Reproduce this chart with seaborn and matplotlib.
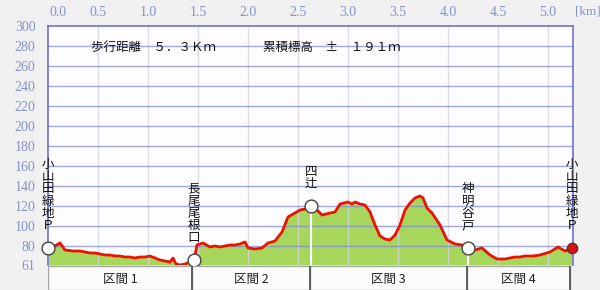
import matplotlib
matplotlib.use("Agg")
import matplotlib.pyplot as plt
import matplotlib.transforms as mtransforms
import seaborn as sns
import pandas as pd

# ---- data ----
dist_km = [0.00, 0.05, 0.12, 0.17, 0.25, 0.32, 0.42, 0.47, 0.52, 0.57, 0.62, 0.67,
           0.72, 0.77, 0.82, 0.87, 0.92, 0.97, 1.02, 1.07, 1.12, 1.17, 1.22, 1.25,
           1.28, 1.32, 1.37, 1.42, 1.46, 1.49, 1.55, 1.62, 1.67, 1.72, 1.77, 1.82,
           1.87, 1.92, 1.97, 2.00, 2.07, 2.14, 2.20, 2.27, 2.34, 2.40, 2.47, 2.52,
           2.57, 2.63, 2.69, 2.74, 2.78, 2.82, 2.87, 2.92, 2.96, 3.00, 3.04, 3.07,
           3.12, 3.17, 3.22, 3.27, 3.32, 3.37, 3.42, 3.47, 3.52, 3.57, 3.62, 3.67,
           3.72, 3.75, 3.79, 3.84, 3.92, 3.99, 4.07, 4.14, 4.20, 4.27, 4.34, 4.42,
           4.49, 4.57, 4.62, 4.67, 4.72, 4.77, 4.85, 4.92, 5.02, 5.10, 5.17, 5.24]
elev_m = [78, 79, 83, 76, 75, 75, 73, 73, 72, 71, 71, 70,
          70, 69, 69, 68, 69, 69, 70, 68, 66, 65, 64, 68,
          62, 61, 62, 64, 66, 81, 83, 79, 80, 79, 80, 81,
          81, 82, 84, 78, 77, 78, 83, 85, 94, 109, 113, 116,
          117, 120, 116, 111, 112, 113, 114, 122, 123, 124, 122, 124,
          122, 121, 114, 101, 90, 87, 86, 91, 101, 116, 123, 128,
          130, 128, 118, 113, 101, 86, 82, 81, 78, 76, 78, 71,
          67, 67, 68, 69, 69, 70, 70, 71, 74, 79, 75, 78]

km_ticks = [0.0, 0.5, 1.0, 1.5, 2.0, 2.5, 3.0, 3.5, 4.0, 4.5, 5.0]
m_ticks = [61, 80, 100, 120, 140, 160, 180, 200, 220, 240, 260, 280, 300]

spot_names = ["小山田緑地Ｐ", "長尾尾根口", "四辻", "神明谷戸", "小山田緑地Ｐ"]
spot_km = [0.00, 1.46, 2.63, 4.20, 5.24]
spot_m = [78, 66, 120, 78, 78]

section_names = ["区間 1", "区間 2", "区間 3", "区間 4"]
section_bounds = [0.00, 1.44, 2.62, 4.19, 5.22]

title_left = "歩行距離　５．３Ｋｍ"
title_right = "累積標高　±　１９１ｍ"

# ---- style ----
sns.set_theme(style="white")
plt.rcParams["font.family"] = ["Noto Sans CJK JP", "DejaVu Sans"]

BG = "#f1f1f1"
GRID_H = "#7f8ad6"
GRID_V = "#d4d6e0"
TICK_C = "#8593cf"
FILL = "#a6d65b"
LINE = "#ee1100"

XMIN, XMAX = 0.0, 5.25
YMIN, YMAX = 61, 300

fig = plt.figure(figsize=(6.0, 2.9), dpi=100, facecolor=BG)
ax = fig.add_axes([48 / 600, 1 - 265 / 290, 525 / 600, 239 / 290])
ax.set_facecolor("#fdfdff")

df = pd.DataFrame({"km": dist_km, "m": elev_m})

ax.fill_between(df["km"], YMIN, df["m"], color=FILL, linewidth=0, zorder=1)

# grid over the fill
for t in km_ticks[1:]:
    ax.axvline(t, color=GRID_V, lw=1.0, alpha=0.8, zorder=2)
for t in m_ticks[1:-1]:
    ax.axhline(t, color=GRID_H, lw=1.0, alpha=0.75, zorder=2)

# white stems from spots
ax.vlines(spot_km[1:4], YMIN, spot_m[1:4], color="white", lw=1.5, zorder=3)

sns.lineplot(data=df, x="km", y="m", color=LINE, lw=2.0, ax=ax, zorder=4)

ax.scatter(spot_km[:4], spot_m[:4], s=85, facecolor="white", edgecolor="#444444",
           linewidth=1.0, zorder=6, clip_on=False)
ax.scatter(spot_km[4:], spot_m[4:], s=55, facecolor="#dd1111", edgecolor="#553333",
           linewidth=1.0, zorder=6, clip_on=False)

for name, xk, ym in zip(spot_names, spot_km, spot_m):
    ax.text(xk, ym + 16, "\n".join(list(name)), ha="center", va="bottom",
            fontsize=9, linespacing=0.92, color="#111111", zorder=7, clip_on=False)

ax.text(0.43, 279, title_left, ha="left", va="center", fontsize=9, color="#111111")
ax.text(2.15, 279, title_right, ha="left", va="center", fontsize=9, color="#111111")

ax.set_xlim(XMIN, XMAX)
ax.set_ylim(YMIN, YMAX)
ax.set_xlabel("")
ax.set_ylabel("")
ax.xaxis.tick_top()
ax.set_xticks(km_ticks)
ax.set_xticklabels([f"{t:.1f}" for t in km_ticks])
ax.set_yticks(m_ticks)
ax.set_yticklabels([str(t) for t in m_ticks])
ax.tick_params(axis="both", length=0, colors=TICK_C, labelsize=10)
ax.tick_params(axis="x", pad=5)
ax.tick_params(axis="y", pad=9)
for lab in ax.get_xticklabels() + ax.get_yticklabels():
    lab.set_family(["Liberation Serif", "DejaVu Serif"])
first = ax.get_xticklabels()[0]
first.set_transform(first.get_transform() +
                    mtransforms.ScaledTranslation(10 / 100, 0, fig.dpi_scale_trans))

ax.text(1.003, 1.035, "[km]", transform=ax.transAxes, ha="left", va="bottom",
        fontsize=9.5, color=TICK_C, family=["Liberation Serif", "DejaVu Serif"])

for side in ["left", "right", "top"]:
    ax.spines[side].set_color("#7070d0")
    ax.spines[side].set_linewidth(1.2)
ax.spines["bottom"].set_visible(False)

# ---- section bar ----
bx = fig.add_axes([48 / 600, 0, 525 / 600, 24 / 290])
bx.set_facecolor(BG)
bx.set_xlim(XMIN, XMAX)
bx.set_ylim(0, 1)
bx.axis("off")
for i, name in enumerate(section_names):
    x0, x1 = section_bounds[i], section_bounds[i + 1]
    bx.add_patch(plt.Rectangle((x0, 0), x1 - x0, 1, facecolor="#fbfbfb",
                               edgecolor="#a8a8a8", lw=1.0))
    bx.text((x0 + x1) / 2, 0.45, name, ha="center", va="center", fontsize=9,
            color="#222222")
bx.vlines(section_bounds[1:], 0, 1, color="#555555", lw=1.3)

fig.savefig("out.png", dpi=100, facecolor=BG)
